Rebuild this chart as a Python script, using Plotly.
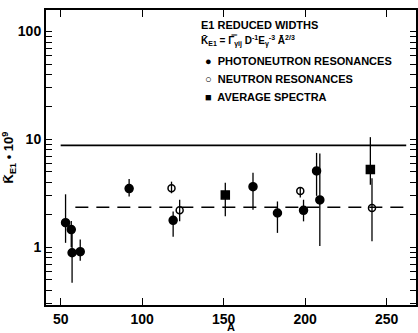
import plotly.graph_objects as go

# Photoneutron resonances (filled circles)
pn_A = [53, 56.5, 57, 62, 92, 119, 168, 183, 199, 207, 209]
pn_K = [1.69, 1.46, 0.89, 0.91, 3.5, 1.78, 3.65, 2.08, 2.2, 5.1, 2.75]
pn_lo = [1.10, 1.0, 0.47, 0.75, 2.96, 1.25, 2.23, 1.36, 1.74, 3.0, 1.03]
pn_hi = [3.1, 1.75, 1.5, 1.18, 4.3, 2.15, 4.9, 2.66, 2.76, 7.5, 7.4]

# Neutron resonances (open circles)
nr_A = [118, 123, 197, 241]
nr_K = [3.53, 2.2, 3.33, 2.31]
nr_lo = [3.17, 1.74, 2.9, 1.14]
nr_hi = [4.06, 2.76, 3.6, 4.36]

# Average spectra (filled squares)
av_A = [151, 240]
av_K = [3.06, 5.27]
av_lo = [1.94, 3.8]
av_hi = [3.97, 10.5]

# Reference lines
solid_A = [50, 262]
solid_K = [8.8, 8.8]
dash_A = [59, 262]
dash_K = [2.35, 2.35]

x_ticks = [50, 100, 150, 200, 250]
x_labels = ["50", "100", "150", "200", "250"]
y_ticks = [0.3, 0.4, 0.5, 0.6, 0.7, 0.8, 0.9, 1,
           2, 3, 4, 5, 6, 7, 8, 9, 10,
           20, 30, 40, 50, 60, 70, 80, 90, 100]
y_labels = ["", "", "", "", "", "", "", "1",
            "", "", "", "", "", "", "", "", "10",
            "", "", "", "", "", "", "", "", "100"]

W, H = 418, 333
L, R, T, B = 46, 2, 10, 28
PW, PH = W - L - R, H - T - B


def px(x):
    return (x - L) / PW


def py(y):
    return (H - B - y) / PH


fig = go.Figure()

fig.add_trace(go.Scatter(x=solid_A, y=solid_K, mode="lines",
                         line=dict(color="black", width=1.8), showlegend=False))
fig.add_trace(go.Scatter(x=dash_A, y=dash_K, mode="lines",
                         line=dict(color="black", width=1.4, dash="13px,8px"), showlegend=False))


def add_series(A, K, lo, hi, symbol, size):
    fig.add_trace(go.Scatter(
        x=A, y=K, mode="markers",
        marker=dict(symbol=symbol, size=size, color="black",
                    line=dict(color="black", width=1.5)),
        error_y=dict(type="data", symmetric=False,
                     array=[h - k for h, k in zip(hi, K)],
                     arrayminus=[k - l for k, l in zip(K, lo)],
                     color="black", thickness=1.3, width=0),
        showlegend=False))


add_series(pn_A, pn_K, pn_lo, pn_hi, "circle", 8)
add_series(nr_A, nr_K, nr_lo, nr_hi, "circle-open", 7)
add_series(av_A, av_K, av_lo, av_hi, "square", 8)

fam = "Liberation Sans, Arial, sans-serif"

fig.update_layout(
    template="none",
    width=W, height=H,
    margin=dict(l=L, r=R, t=T, b=B, autoexpand=False),
    paper_bgcolor="white", plot_bgcolor="white",
    font=dict(family=fam, color="black"),
    xaxis=dict(range=[41, 268], tickvals=x_ticks,
               ticktext=["<b>%s</b>" % t for t in x_labels],
               ticks="inside", ticklen=7, tickcolor="black",
               showline=True, linewidth=2, linecolor="black",
               mirror="ticks", showgrid=False, zeroline=False,
               tickfont=dict(size=14, family=fam, color="black"),
               title=dict(text="<b>A</b>", standoff=0,
                          font=dict(size=11, family=fam, color="black"))),
    yaxis=dict(type="log", range=[-0.535, 2.2], tickvals=y_ticks,
               ticktext=["<b>%s</b>" % t if t else "" for t in y_labels],
               ticks="inside", ticklen=6, tickcolor="black",
               showline=True, linewidth=2, linecolor="black",
               mirror="ticks", showgrid=False, zeroline=False,
               tickfont=dict(size=14, family=fam, color="black"),
               title=dict(text="<b>K\u0304<sub>E1</sub> \u2022 10<sup>9</sup></b>", standoff=4,
                          font=dict(size=13, family=fam, color="black"))),
)

lines = [
    ("<b>E1 REDUCED WIDTHS</b>", 199, 25, 11),
    ("<b>K\u0304<sub>E1</sub> = \u0393\u033f<sub>\u03b3ij</sub> D<sup>-1</sup>E<sub>\u03b3</sub><sup>-3</sup> A\u0304<sup>2/3</sup></b>", 199, 41, 10),
    ("<b>\u25cf  PHOTONEUTRON RESONANCES</b>", 203, 61, 11),
    ("<b>\u25cb  NEUTRON RESONANCES</b>", 203, 79, 11),
    ("<b>\u25a0  AVERAGE SPECTRA</b>", 203, 97, 11),
]
for text, x, y, s in lines:
    fig.add_annotation(text=text, xref="paper", yref="paper", x=px(x), y=py(y),
                       xanchor="left", yanchor="middle", showarrow=False,
                       font=dict(size=s, family=fam, color="black"))

fig.write_html("out.html")
